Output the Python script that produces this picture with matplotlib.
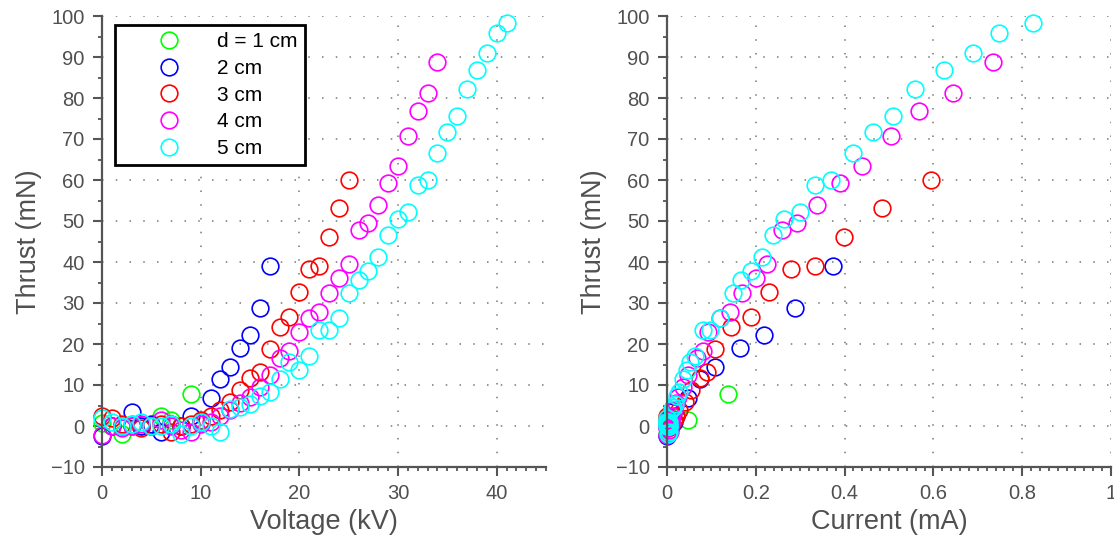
import matplotlib
matplotlib.use('Agg')
import matplotlib.pyplot as plt
from matplotlib.ticker import MultipleLocator, FixedLocator

plt.rcParams['font.family'] = ['Liberation Sans', 'DejaVu Sans']

labels = ['d = 1 cm', '2 cm', '3 cm', '4 cm', '5 cm']
colors = ['#00ff00', '#0000ff', '#ff0000', '#ff00ff', '#00ffff']

# d = 1 cm
volt1 = [0, 1, 2, 3, 4, 5, 6, 7, 8, 9]
thrust1 = [0.7, 0, -2, 0.5, 0, 0, 2.5, 1.5, 0, 7.8]
curr1 = [0, 0, 0, 0, 0.001, 0.002, 0.005, 0.047, 0.01, 0.137]

# d = 2 cm
volt2 = [0, 1, 2, 3, 4, 5, 6, 7, 8, 9, 10, 11, 12, 13, 14, 15, 16, 17]
thrust2 = [-2.5, 0, 0, 3.5, 0, 0.5, -1.5, 0.5, 0, 2.5, 1, 6.8, 11.4, 14.3, 19, 22.2, 28.9, 39.1]
curr2 = [0, 0, 0.002, 0.01, 0.003, 0.005, 0.004, 0.006, 0.008, 0.02, 0.015, 0.047, 0.074, 0.108,
         0.164, 0.218, 0.288, 0.374]

# d = 3 cm
volt3 = [0, 1, 2, 3, 4, 5, 6, 7, 8, 9, 10, 11, 12, 13, 14, 15, 16, 17, 18, 19, 20, 21, 22, 23, 24, 25]
thrust3 = [2.5, 2, 0.5, 0, -0.5, 0, 0.5, -1.5, 0, 0.5, 1.5, 2.5, 3.9, 5.9, 8.8, 11.7, 13.2, 18.8,
           24.2, 26.7, 32.8, 38.4, 39.1, 46.2, 53.1, 59.9]
curr3 = [0, 0, 0, 0.002, 0.002, 0.004, 0.005, 0.005, 0.008, 0.01, 0.015, 0.02, 0.028, 0.04, 0.055,
         0.075, 0.09, 0.108, 0.144, 0.189, 0.23, 0.279, 0.333, 0.399, 0.484, 0.595]

# d = 4 cm
volt4 = [0, 1, 2, 3, 4, 5, 6, 7, 8, 9, 10, 11, 12, 13, 14, 15, 16, 17, 18, 19, 20, 21, 22, 23, 24,
         25, 26, 27, 28, 29, 30, 31, 32, 33, 34]
thrust4 = [-2.2, 0, -0.5, 0, 0.5, 0, 1.5, 0, -1, -1.5, 0.5, 1, 2.5, 3.9, 5.6, 7.1, 9.5, 12.5, 16.6,
           18.3, 23, 26.4, 27.9, 32.5, 36.2, 39.6, 47.7, 49.4, 53.8, 59.2, 63.3, 70.7, 76.8, 81.2, 88.8]
curr4 = [0, 0, 0, 0.001, 0.002, 0.002, 0.004, 0.004, 0.005, 0.006, 0.008, 0.01, 0.012, 0.015, 0.02,
         0.025, 0.035, 0.047, 0.068, 0.081, 0.092, 0.12, 0.142, 0.17, 0.2, 0.225, 0.259, 0.293, 0.338,
         0.39, 0.439, 0.505, 0.568, 0.644, 0.734]

# d = 5 cm
volt5 = [0, 1, 2, 3, 4, 5, 6, 7, 8, 9, 10, 11, 12, 13, 14, 15, 16, 17, 18, 19, 20, 21, 22, 23, 24,
         25, 26, 27, 28, 29, 30, 31, 32, 33, 34, 35, 36, 37, 38, 39, 40, 41]
thrust5 = [2, 1, 0, 0.5, 1, 0, 0, 0.5, -2, 0, 1, 0,
           -1.5, 4.2, 4.6, 5.4, 7.3, 8.3, 11.5, 15.6, 13.7, 17.1,
           23.5, 23.5, 26.4, 32.5, 35.5, 37.7, 41.3, 46.7, 50.6, 52.3,
           58.7, 60.1, 66.7, 71.6, 75.6, 82.2, 86.8, 91.0, 95.8, 98.3]
curr5 = [0, 0, 0, 0.001, 0.001, 0.002, 0.002, 0.003, 0.003, 0.004, 0.005, 0.005,
         0.004, 0.012, 0.014, 0.018, 0.022, 0.027, 0.035, 0.052, 0.045, 0.063,
         0.081, 0.097, 0.12, 0.148, 0.167, 0.19, 0.213, 0.239, 0.263, 0.3,
         0.333, 0.369, 0.419, 0.464, 0.509, 0.559, 0.624, 0.689, 0.748, 0.824]

volts = [volt1, volt2, volt3, volt4, volt5]
thrusts = [thrust1, thrust2, thrust3, thrust4, thrust5]
currs = [curr1, curr2, curr3, curr4, curr5]

TXT = '#505050'
AX = '#555555'

fig = plt.figure(figsize=(11.14, 5.42), dpi=100)
W, H = 1114.0, 542.0
ax1 = fig.add_axes([102 / W, 1 - 467 / H, 444 / W, 451 / H])
ax2 = fig.add_axes([667 / W, 1 - 467 / H, 444 / W, 451 / H])


def style(ax):
    for s in ['top', 'right']:
        ax.spines[s].set_visible(False)
    for s in ['left', 'bottom']:
        ax.spines[s].set_color(AX)
        ax.spines[s].set_linewidth(1.6)
    ax.set_ylim(-10, 100)
    ax.yaxis.set_major_locator(MultipleLocator(10))
    ax.yaxis.set_minor_locator(MultipleLocator(5))
    ax.tick_params(which='major', direction='out', length=6.5, width=1.5, color=AX,
                   labelsize=14.5, labelcolor=TXT, pad=6)
    ax.tick_params(which='minor', direction='out', length=3, width=1.3, color=AX)
    ax.grid(True, which='major', linestyle=(0, (1, 8)), color='#777777', linewidth=1.1)
    ax.set_axisbelow(True)
    ax.set_ylabel('Thrust (mN)', fontsize=19.5, color=TXT, labelpad=6)


for ax in (ax1, ax2):
    style(ax)

handles = []
for v, t, c, lab in zip(volts, thrusts, colors, labels):
    h, = ax1.plot(v, t, 'o', mfc='none', mec=c, ms=12, mew=1.2, clip_on=False, label=lab)
    handles.append(h)
for i, t, c in zip(currs, thrusts, colors):
    ax2.plot(i, t, 'o', mfc='none', mec=c, ms=12, mew=1.2, clip_on=False)

ax1.set_xlim(0, 45)
ax1.xaxis.set_major_locator(MultipleLocator(10))
ax1.xaxis.set_minor_locator(MultipleLocator(1))
ax1.set_xlabel('Voltage (kV)', fontsize=19.5, color=TXT, labelpad=4)

ax2.set_xlim(0, 1)
ax2.xaxis.set_major_locator(FixedLocator([0, 0.2, 0.4, 0.6, 0.8, 1.0]))
ax2.set_xticklabels(['0', '0.2', '0.4', '0.6', '0.8', '1'])
ax2.xaxis.set_minor_locator(MultipleLocator(0.02))
ax2.set_xlabel('Current (mA)', fontsize=19.5, color=TXT, labelpad=4)

leg = ax1.legend(handles=handles, loc='upper left', bbox_to_anchor=(0.029, 0.98),
                 borderaxespad=0, fontsize=15, numpoints=1, handlelength=4.5,
                 handletextpad=0.05, borderpad=0.35, labelspacing=0.37,
                 fancybox=False, framealpha=1, edgecolor='black')
leg.get_frame().set_linewidth(2)

fig.savefig('out.png', dpi=100)
